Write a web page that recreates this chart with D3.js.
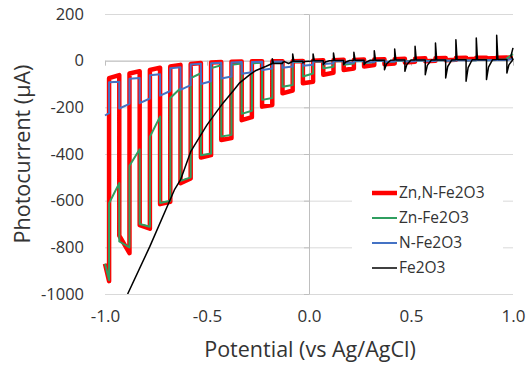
<!DOCTYPE html>
<html>
<head>
<meta charset="utf-8">
<script src="https://cdn.jsdelivr.net/npm/d3@7"></script>
<style>
  body { margin: 0; background: #fff; }
  svg { display: block; font-family: "Open Sans", sans-serif; }
</style>
</head>
<body>
<svg id="chart" width="529" height="365"></svg>
<script>
// axis ticks
var potentialTicks = [-1.0, -0.5, 0.0, 0.5, 1.0];
var potentialLabels = ["-1.0", "-0.5", "0.0", "0.5", "1.0"];
var currentTicks = [-1000, -800, -600, -400, -200, 0, 200];
var currentLabels = ["-1000", "-800", "-600", "-400", "-200", "0", "200"];

// chopping: potential where light goes on / off
var lightOn = [-0.93, -0.83, -0.73, -0.63, -0.53, -0.43, -0.33, -0.23, -0.13, -0.03,
               0.07, 0.17, 0.27, 0.37, 0.47, 0.57, 0.67, 0.77, 0.87, 0.97];
var lightOff = [-0.98, -0.88, -0.78, -0.68, -0.58, -0.48, -0.38, -0.28, -0.18, -0.08,
                0.02, 0.12, 0.22, 0.32, 0.42, 0.52, 0.62, 0.72, 0.82, 0.92];

// Zn,N-Fe2O3 : [start, end] of each lit / dark stretch (uA)
var znnLight = [[-870, -945], [-750, -825], [-705, -720], [-615, -605], [-525, -505],
                [-415, -405], [-340, -332], [-255, -242], [-197, -190], [-140, -128],
                [-97, -90], [-60, -52], [-40, -34], [-25, -19], [-15, -12],
                [-8, -5], [-2, 0], [2, 4], [6, 8], [9, 11], [12, 14]];
var znnDark = [[-75, -62], [-55, -45], [-40, -30], [-25, -18], [-14, -10],
               [-8, -6], [-5, -4], [-3, -2], [-3, -2], [-2, -1],
               [0, 2], [2, 4], [3, 5], [5, 6], [6, 8],
               [8, 10], [10, 11], [11, 12], [12, 13], [13, 14]];

// Zn-Fe2O3
var znLight = [[-870, -940], [-775, -800], [-700, -712], [-610, -600], [-515, -500],
               [-405, -398], [-325, -318], [-228, -215], [-168, -160], [-112, -104],
               [-68, -55], [-33, -26], [-18, -12], [-10, -7], [-6, -4],
               [-3, -1], [-1, 0], [0, 1], [1, 2], [2, 3], [10, 28]];
var znDark = [[-611, -525], [-450, -380], [-326, -240], [-160, -118], [-75, -54],
              [-32, -20], [-18, -12], [-12, -8], [-8, -6], [-6, -5],
              [-4, -3], [-3, -2], [-2, -1], [-1, 0], [0, 1],
              [1, 2], [2, 3], [3, 4], [3, 4], [3, 5]];

// N-Fe2O3
var nLight = [[-235, -225], [-205, -185], [-182, -162], [-150, -130], [-125, -105],
              [-100, -88], [-76, -68], [-56, -50], [-40, -34], [-30, -25],
              [-22, -18], [-14, -11], [-10, -8], [-7, -6], [-5, -4],
              [-4, -3], [-2, -1], [0, 1], [1, 2], [2, 3], [3, 8]];
var nDark = [[-93, -90], [-78, -74], [-62, -58], [-32, -28], [-16, -13],
             [-11, -9], [-8, -6], [-6, -5], [-5, -4], [-4, -3],
             [-2, -1], [-1, 0], [0, 0], [0, 1], [1, 1],
             [1, 2], [2, 2], [2, 3], [3, 3], [3, 4]];

// Fe2O3 : smooth dark sweep, then transients at each chop
var feV = [-0.889, -0.78, -0.66, -0.63, -0.58, -0.53, -0.50, -0.45, -0.42, -0.37,
           -0.34, -0.29, -0.26, -0.21, -0.18];
var feI = [-1000, -796, -554, -511, -390, -318, -275, -215, -180, -128,
           -95, -60, -42, -24, -12];
var feBase = [-12, -3, 0, 1, 2, 2, 3, 3, 3, 4, 4, 5];
var feUp = [8, 29, 29, 33, 36, 43, 50, 62, 76, 90, 97, 109];
var feDown = [-8, -10, -17, -17, -17, -39, -45, -60, -74, -88, -81, -53];
var feRecover = [-4, -4, -6, -6, -6, -14, -16, -20, -25, -30, -28, -18];
var feEnd = [[0.99, 20], [1.0, 55]];

var seriesNames = ["Zn,N-Fe2O3", "Zn-Fe2O3", "N-Fe2O3", "Fe2O3"];
var seriesColors = ["#ff0000", "#2f9e5f", "#4472c4", "#000000"];
var seriesWidths = [4.5, 2, 2, 1.5];

var svg = d3.select("#chart");
var x = d3.scaleLinear().domain([-1, 1]).range([105, 513]);
var y = d3.scaleLinear().domain([-1000, 200]).range([294, 14]);

// gridlines
svg.append("g")
  .attr("transform", "translate(105,0)")
  .call(d3.axisLeft(y).tickValues(currentTicks).tickSize(-408).tickFormat(""))
  .call(function(g) {
    g.select(".domain").remove();
    g.selectAll("line").attr("stroke", "#d9d9d9").attr("stroke-width", 1);
  });

// y labels
svg.append("g")
  .attr("transform", "translate(105,0)")
  .call(d3.axisLeft(y).tickValues(currentTicks).tickSize(0).tickPadding(21)
    .tickFormat(function(d, i) { return currentLabels[i]; }))
  .call(function(g) {
    g.select(".domain").remove();
    g.selectAll("text").attr("font-family", "Open Sans, sans-serif")
      .attr("font-size", 16.5).attr("fill", "#333");
  });

// x labels along the bottom
svg.append("g")
  .attr("transform", "translate(0,294)")
  .call(d3.axisBottom(x).tickValues(potentialTicks).tickSize(0).tickPadding(16)
    .tickFormat(function(d, i) { return potentialLabels[i]; }))
  .call(function(g) {
    g.select(".domain").remove();
    g.selectAll("text").attr("font-family", "Open Sans, sans-serif")
      .attr("font-size", 17).attr("fill", "#333");
  });

// horizontal axis crossing at 0
svg.append("g")
  .attr("transform", "translate(0," + y(0) + ")")
  .call(d3.axisBottom(x).tickValues(potentialTicks).tickSize(5).tickFormat("").tickSizeOuter(0))
  .call(function(g) {
    g.selectAll("path,line").attr("stroke", "#bfbfbf");
  });

// vertical axis crossing at 0
svg.append("g")
  .attr("transform", "translate(" + x(0) + ",0)")
  .call(d3.axisLeft(y).tickValues(currentTicks).tickSize(5).tickFormat("").tickSizeOuter(0))
  .call(function(g) {
    g.selectAll("path,line").attr("stroke", "#bfbfbf");
  });

// build chopped curve
function chopped(light, dark) {
  var pts = [];
  light.forEach(function(l, i) {
    var start = i === 0 ? -1.0 : lightOn[i - 1];
    var end = i < lightOff.length ? lightOff[i] : 1.0;
    pts.push([start, l[0]], [end, l[1]]);
    if (i < dark.length) {
      pts.push([end, dark[i][0]], [lightOn[i], dark[i][1]]);
    }
  });
  return pts;
}

function fePoints() {
  var pts = feV.map(function(v, i) { return [v, feI[i]]; });
  var k0 = 8;
  feUp.forEach(function(u, j) {
    var off = lightOff[k0 + j], on = lightOn[k0 + j];
    var b = feBase[j];
    pts.push([off, b], [off, u], [off + 0.006, b]);
    pts.push([on, b], [on, feDown[j]], [on + 0.01, feRecover[j]], [on + 0.03, b]);
  });
  feEnd.forEach(function(p) { pts.push(p); });
  return pts;
}

var data = [
  chopped(znnLight, znnDark),
  chopped(znLight, znDark),
  chopped(nLight, nDark),
  fePoints()
];

svg.append("clipPath").attr("id", "plot")
  .append("rect").attr("x", 100).attr("y", 10).attr("width", 420).attr("height", 284);

var line = d3.line()
  .x(function(d) { return x(d[0]); })
  .y(function(d) { return y(d[1]); });

svg.append("g").attr("clip-path", "url(#plot)")
  .selectAll("path").data(data).enter().append("path")
  .attr("d", line)
  .attr("fill", "none")
  .attr("stroke", function(d, i) { return seriesColors[i]; })
  .attr("stroke-width", function(d, i) { return seriesWidths[i]; })
  .attr("stroke-linejoin", "round");

// legend
var legend = svg.append("g");
legend.append("rect").attr("x", 352).attr("y", 182).attr("width", 151).attr("height", 98).attr("fill", "#fff");
var rows = legend.selectAll("g.item").data(seriesNames).enter().append("g")
  .attr("transform", function(d, i) { return "translate(372," + (193 + i * 25) + ")"; });
rows.append("line").attr("x1", 0).attr("x2", 25)
  .attr("stroke", function(d, i) { return seriesColors[i]; })
  .attr("stroke-width", function(d, i) { return seriesWidths[i]; });
rows.append("text").attr("x", 27).attr("dy", "0.35em")
  .attr("font-size", 15.5).attr("fill", "#333")
  .text(function(d) { return d; });

// axis titles
svg.append("text").attr("x", 310).attr("y", 357).attr("text-anchor", "middle")
  .attr("font-size", 21.5).attr("fill", "#333").text("Potential (vs Ag/AgCl)");
svg.append("text").attr("transform", "translate(30,154) rotate(-90)").attr("text-anchor", "middle")
  .attr("font-size", 21.5).attr("fill", "#333").text("Photocurrent (μA)");
</script>
</body>
</html>
